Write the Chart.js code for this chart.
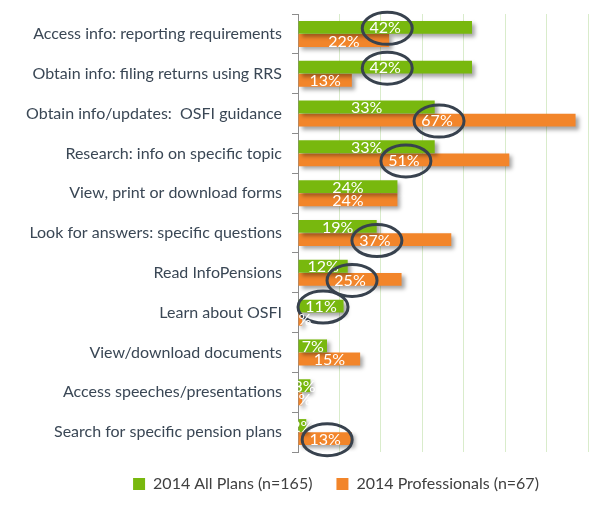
<!DOCTYPE html>
<html>
<head>
<meta charset="utf-8">
<script src="https://cdn.jsdelivr.net/npm/chart.js@4"></script>
<style>
  html, body { margin: 0; padding: 0; background: #fff; }
  #wrap { width: 611px; height: 506px; }
</style>
</head>
<body>
<div id="wrap"><canvas id="chart"></canvas></div>
<script>
const categories = [
    'Access info: reporting requirements',
    'Obtain info: filing returns using RRS',
    'Obtain info/updates:  OSFI guidance',
    'Research: info on specific topic',
    'View, print or download forms',
    'Look for answers: specific questions',
    'Read InfoPensions',
    'Learn about OSFI',
    'View/download documents',
    'Access speeches/presentations',
    'Search for specific pension plans'
];
const allPlans = [42, 42, 33, 33, 24, 19, 12, 11, 7, 3, 2];
const professionals = [22, 13, 67, 51, 24, 37, 25, 1, 15, 1, 13];
// which labels have a ring drawn round them
const allPlansCircled = [0, 1, 7];
const professionalsCircled = [2, 3, 5, 6, 10];

const FONT = 'Lato';

// soft shadow under the bars, like the original
const barShadow = {
    id: 'barShadow',
    beforeDatasetsDraw(chart) {
        const ctx = chart.ctx;
        ctx.save();
        ctx.shadowColor = 'rgba(0,0,0,0.35)';
        ctx.shadowBlur = 4;
        ctx.shadowOffsetX = 3;
        ctx.shadowOffsetY = 3;
    },
    afterDatasetsDraw(chart) {
        chart.ctx.restore();
    }
};

// legend in the original sits a bit right of the canvas centre
const legendShift = {
    id: 'legendShift',
    afterLayout(chart) {
        chart.legend.left += 42;
        chart.legend.right += 42;
    }
};

// white value labels in the middle of each bar + the rings
const valueLabels = {
    id: 'valueLabels',
    afterDatasetsDraw(chart) {
        const ctx = chart.ctx;
        const circled = [allPlansCircled, professionalsCircled];
        ctx.save();
        ctx.font = '16px ' + FONT;
        ctx.textAlign = 'center';
        ctx.textBaseline = 'middle';
        chart.data.datasets.forEach((ds, di) => {
            const meta = chart.getDatasetMeta(di);
            meta.data.forEach((bar, i) => {
                const cx = (bar.x + bar.base) / 2;
                const cy = bar.y + 1;
                ctx.fillStyle = '#ffffff';
                ctx.fillText(ds.data[i] + '%', cx, cy);
                if (circled[di].includes(i)) {
                    ctx.beginPath();
                    ctx.ellipse(cx + 2, cy, 25, 16, 0, 0, Math.PI * 2);
                    ctx.lineWidth = 3;
                    ctx.strokeStyle = '#38424e';
                    ctx.stroke();
                }
            });
        });
        ctx.restore();
    }
};

const ctx = document.getElementById('chart').getContext('2d');
new Chart(ctx, {
    type: 'bar',
    data: {
        labels: categories,
        datasets: [{
            label: '2014 All Plans (n=165)',
            data: allPlans,
            backgroundColor: '#78b80e',
            barPercentage: 0.98,
            categoryPercentage: 0.66
        }, {
            label: '2014 Professionals (n=67)',
            data: professionals,
            backgroundColor: '#f2852a',
            barPercentage: 0.98,
            categoryPercentage: 0.66
        }]
    },
    options: {
        indexAxis: 'y',
        responsive: true,
        maintainAspectRatio: false,
        animation: false,
        layout: { padding: { top: 14, right: 23, left: 0, bottom: 4 } },
        scales: {
            x: {
                min: 0,
                max: 70,
                ticks: { display: false, stepSize: 10 },
                grid: { color: '#d9eccb', drawTicks: false, lineWidth: 1 },
                border: { display: false }
            },
            y: {
                afterFit: (scale) => {
                    scale.width = 298;
                    scale.paddingTop = 0;
                    scale.paddingBottom = 0;
                },
                ticks: {
                    color: '#3a4755',
                    font: { family: FONT, size: 16 },
                    padding: 10
                },
                grid: {
                    drawOnChartArea: false,
                    tickLength: 6,
                    color: '#8c8c8c'
                },
                border: { color: '#8c8c8c' }
            }
        },
        plugins: {
            legend: {
                position: 'bottom',
                labels: {
                    boxWidth: 12,
                    boxHeight: 12,
                    padding: 24,
                    color: '#404040',
                    font: { family: FONT, size: 16 }
                }
            },
            tooltip: { enabled: false }
        }
    },
    plugins: [barShadow, legendShift, valueLabels]
});
</script>
</body>
</html>
